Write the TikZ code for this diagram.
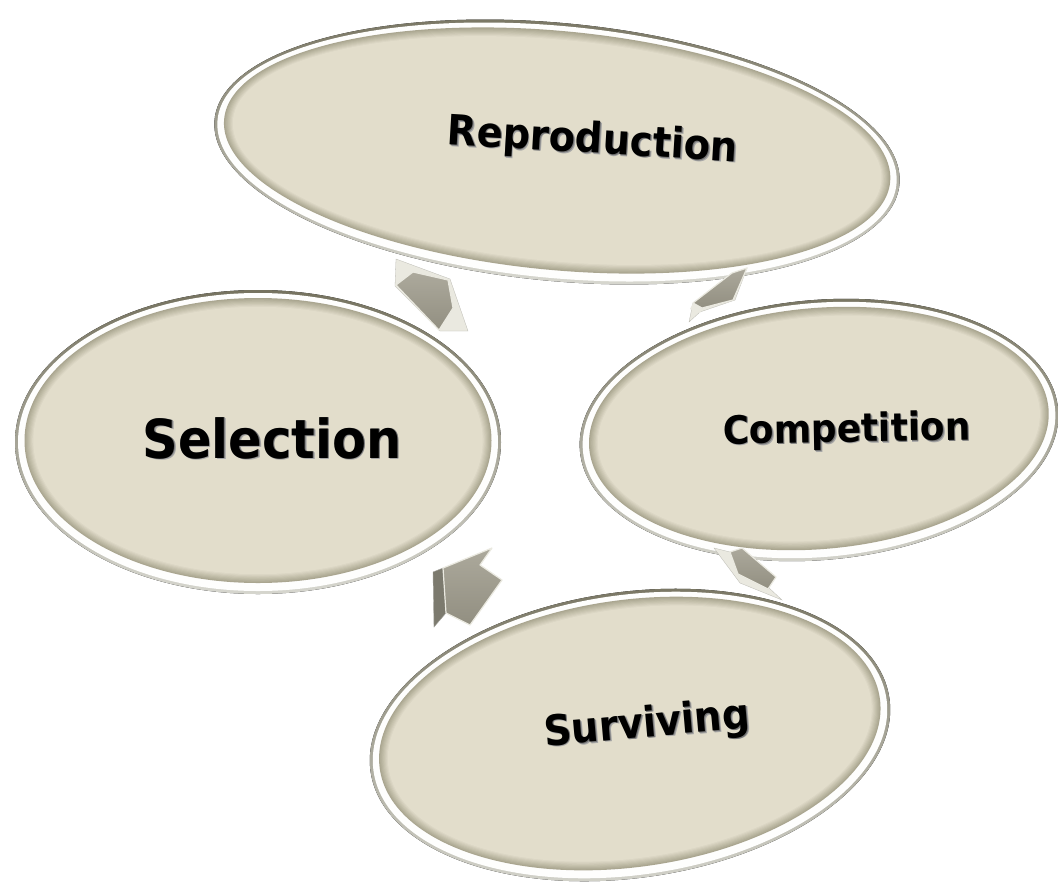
\documentclass[tikz,border=0pt]{standalone}
\usepackage{fontspec}
\newfontfamily\labelfont{DejaVu Sans}[FakeStretch=0.92]

\definecolor{discfill}{RGB}{226,221,203}
\definecolor{rimdark}{RGB}{118,115,96}
\definecolor{rimlight}{RGB}{214,214,206}
\definecolor{innershade}{RGB}{170,166,144}
\definecolor{arrowface}{RGB}{172,169,156}
\definecolor{arrowdeep}{RGB}{146,143,129}
\definecolor{arrowlight}{RGB}{234,233,224}

% A bevelled disc: dark outer rim, white band, soft inner shadow, flat face
\newcommand\ringdisc[5]{%
  \begin{scope}[shift={(#1,#2)}, rotate=#5]
    \fill[top color=rimdark, bottom color=rimlight]
      (0,0) ellipse [x radius=#3pt, y radius=#4pt];
    \fill[white!97!discfill]
      (0,0) ellipse [x radius=#3pt-3pt, y radius=#4pt-3pt];
    \foreach \k in {0,...,8}{%
      \pgfmathsetmacro\mixval{100-\k*12.5}%
      \fill[innershade!\mixval!discfill]
        (0,-1.5) ellipse [x radius=#3pt-9.5pt-\k*1.1pt, y radius=#4pt-9.5pt-\k*1.1pt];
    }
  \end{scope}}

% text with a soft grey shadow set down and to the right of it
\newcommand\shadowed[1]{%
  \leavevmode\rlap{\raisebox{-1.6pt}{\hspace{1.6pt}\textcolor{black!35}{#1}}}%
  \rlap{\raisebox{-0.8pt}{\hspace{0.8pt}\textcolor{black!55}{#1}}}#1}

\tikzset{
  disclabel/.style={text=black, inner sep=0pt, anchor=base},
  arrowback/.style={fill=arrowlight, draw=arrowlight!80!black, line width=0.3pt},
  arrowbody/.style={top color=arrowface, bottom color=arrowdeep,
                    draw=arrowlight, line width=1.2pt, line join=round},
  arrowside/.style={fill=arrowdeep!85!black, draw=arrowlight!70!black, line width=0.4pt},
}

\begin{document}
\begin{tikzpicture}[x=1pt, y=-1pt]
  \useasboundingbox (0,0) rectangle (1058,884);
  \fill[white] (0,0) rectangle (1058,884);

  % discs
  \ringdisc{557}{152}{344}{129}{-5.4}
  \ringdisc{258}{442}{243}{152}{0}
  \ringdisc{819}{430}{240}{130}{5}
  \ringdisc{630}{735}{262}{143}{8}

  % labels
  \node[disclabel, font=\labelfont\bfseries\fontsize{41.7}{48}\selectfont, rotate=-3.4]
    (repro) at (592,153) {\shadowed{Reproduction}};
  \node[disclabel, font=\labelfont\bfseries\fontsize{53.8}{60}\selectfont]
    (select) at (272,458) {\shadowed{Selection}};
  \node[disclabel, font=\labelfont\bfseries\fontsize{39}{46}\selectfont, rotate=1]
    (compete) at (847,442) {\shadowed{Competition}};
  \node[disclabel, font=\labelfont\bfseries\fontsize{42}{48}\selectfont, rotate=5]
    (survive) at (648,737) {\shadowed{Surviving}};

  % block arrows between the discs
  % Selection -> Reproduction
  \fill[arrowback] (396,259) -- (450,279) -- (468,331) -- (440,331) -- (395,286) -- cycle;
  \draw[arrowbody] (396,285) -- (413,272) -- (448,280) -- (453,308) -- (439,330) -- cycle;

  % Reproduction -> Competition
  \fill[arrowback] (689,322) -- (693,303) -- (747,268) -- (735,300) -- (700,312) -- cycle;
  \draw[arrowbody] (693,303) -- (732,273) -- (747,268) -- (733,300) -- (702,308) -- cycle;
  \fill[arrowlight] (693,303) -- (702,308) -- (700,313) -- (690,309) -- cycle;

  % Competition -> Surviving
  \fill[arrowback] (714,548) -- (730,552) -- (768,587) -- (782,600) -- (740,583) -- cycle;
  \draw[arrowbody] (730,552) -- (742,548) -- (776,577) -- (768,589) -- (738,574) -- cycle;

  % Surviving -> Selection
  \draw[arrowside] (433,572) -- (443,568) -- (446,613) -- (434,627) -- cycle;
  \draw[arrowbody] (443,568) -- (492,548) -- (480,565) -- (502,580) -- (470,625) -- (446,613) -- cycle;
\end{tikzpicture}
\end{document}
